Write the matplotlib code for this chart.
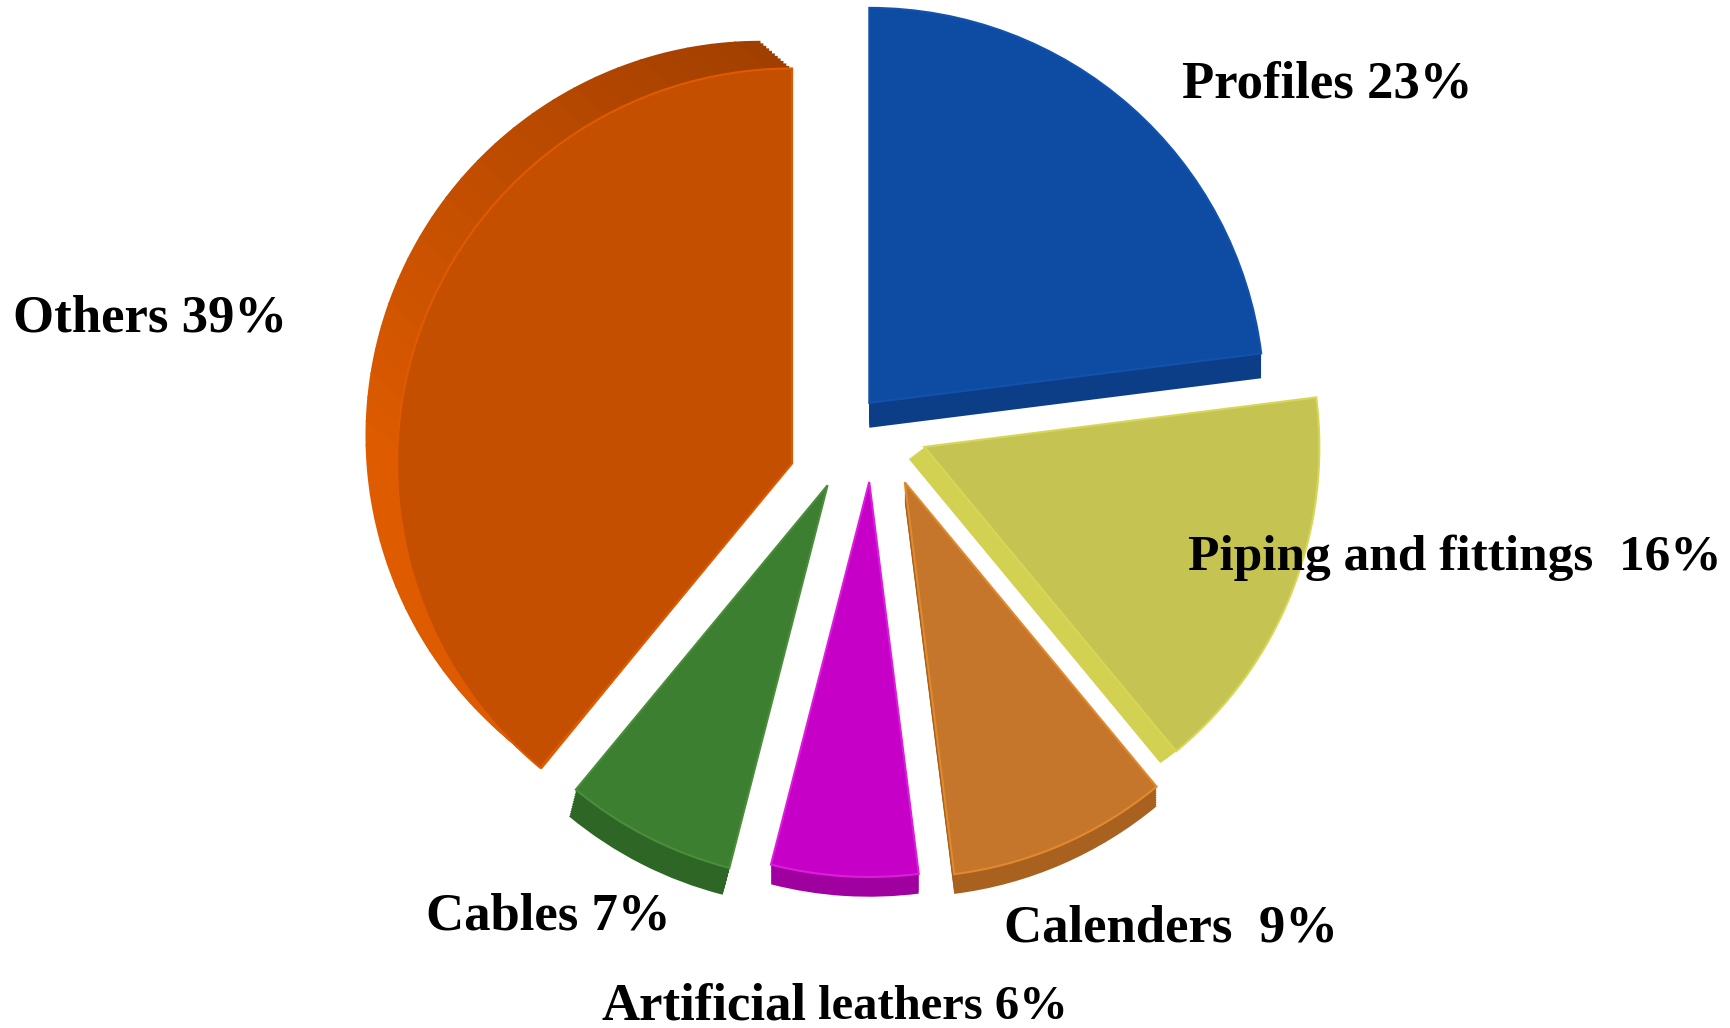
import numpy as np
import matplotlib
matplotlib.use('Agg')
import matplotlib.pyplot as plt
from matplotlib.patches import Wedge
from matplotlib.colors import to_rgb

# shares of PVC use (%), clockwise from 12 o'clock
categories = ['Profiles', 'Piping and fittings', 'Calenders',
              'Artificial leathers', 'Cables', 'Others']
shares = [23, 16, 9, 6, 7, 39]
label_texts = ['Profiles 23%', 'Piping and fittings  16%', 'Calenders  9%',
               'Artificial leathers 6%', 'Cables 7%', 'Others 39%']

face_colors = ['#0E4CA4', '#C5C452', '#C6762A', '#C600C6', '#3C7F30', '#C44F00']
side_colors = ['#0B3E86', '#D3D152', '#A9611F', '#A000A0', '#2E6626', '#C85200']
edge_colors = ['#1252AC', '#D8D656', '#E08A30', '#DC1EDC', '#4A8E3A', '#E05A00']
# explosion: distance (radius units) and a twist of its direction (deg),
# mimicking the tilted 3-D view of the original
explode = [0.135, 0.19, 0.159, 0.09, 0.10, 0.148]
twist = [19.6, 25.8, 38.2, 37.3, -6.7, 30.7]
# fake extrusion direction for each slice (axis units)
depth = [(0.0, -0.063), (-0.04, -0.03), (0.0, -0.05),
         (0.0, -0.05), (-0.017, -0.068), (-0.08, 0.07)]

fig = plt.figure(figsize=(17.3, 10.28), dpi=100)
ax = fig.add_axes([0, 0, 1, 1])

wedges, _ = ax.pie(shares, colors=face_colors, startangle=90,
                   counterclock=False, radius=1.0,
                   wedgeprops=dict(linewidth=1.5, zorder=3))
for i, w in enumerate(wedges):
    w.set_edgecolor(edge_colors[i])
    mid = np.deg2rad(0.5 * (w.theta1 + w.theta2) + twist[i])
    w.set_center((explode[i] * np.cos(mid), explode[i] * np.sin(mid)))

# side walls: stack shifted copies behind the faces
steps = 12
for i, w in enumerate(wedges):
    cx, cy = w.center
    dx, dy = depth[i]
    for t in np.linspace(1, 0, steps):
        if categories[i] == 'Others':
            # lighter at the left rim, darker along the top
            n = 40
            angs = np.linspace(w.theta1, w.theta2, n + 1)
            for a0, a1 in zip(angs[:-1], angs[1:]):
                am = 0.5 * (a0 + a1) % 360
                f = np.clip((am - 90) / 90, 0, 1)
                c = np.array(to_rgb('#A03E00')) * (1 - f) + np.array(to_rgb('#DE5B00')) * f
                ax.add_patch(Wedge((cx + t * dx, cy + t * dy), w.r, a0, a1 + 0.3,
                                   facecolor=c, edgecolor='none', zorder=1))
        else:
            ax.add_patch(Wedge((cx + t * dx, cy + t * dy), w.r, w.theta1, w.theta2,
                               facecolor=side_colors[i], edgecolor='none', zorder=1))

ax.set_xlim(-849.5 / 395, 880.5 / 395)
ax.set_ylim(-575.6 / 395, 452.4 / 395)
ax.set_aspect('auto')
ax.axis('off')

font = dict(family=['Liberation Serif', 'DejaVu Serif'], fontweight='bold', color='black')
# label anchors (figure fraction, baseline), font size
label_pos = {
    'Profiles 23%': (0.767, 1 - 98 / 1028, 38),
    'Piping and fittings  16%': (0.841, 1 - 570 / 1028, 37),
    'Calenders  9%': (0.677, 1 - 941 / 1028, 38),
    'Cables 7%': (0.317, 1 - 929 / 1028, 38),
    'Others 39%': (0.087, 1 - 331 / 1028, 38),
}
for txt in label_texts:
    if txt in label_pos:
        x, y, fs = label_pos[txt]
        fig.text(x, y, txt, ha='center', va='baseline', fontsize=fs, **font)

# "Artificial" is set a bit larger than the rest of its label
fig.text(807 / 1730, 1 - 1019 / 1028, 'Artificial', ha='right', va='baseline',
         fontsize=38, **font)
fig.text(818 / 1730, 1 - 1019 / 1028, 'leathers 6%', ha='left', va='baseline',
         fontsize=35, **font)

fig.savefig('out.png', dpi=100, facecolor='white')
